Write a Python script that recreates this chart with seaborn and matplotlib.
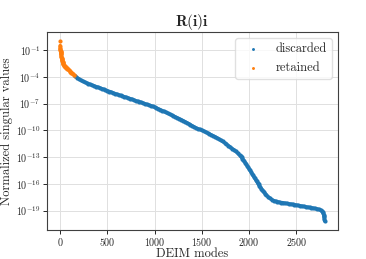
import numpy as np
import pandas as pd
import matplotlib
matplotlib.use("Agg")
import matplotlib.pyplot as plt
import seaborn as sns

# ---- data (log10 of normalized singular values) ----
retained_modes = [0, 1, 2, 3, 4, 5, 6, 7, 8, 9, 10, 12, 14, 16, 18, 20, 22, 24, 26, 28,
                  30, 33, 36, 40, 45, 50, 55, 60, 65, 70, 75, 80, 90, 100, 110, 120,
                  130, 140, 150, 158]
retained_log = [0.0, -0.50, -0.72, -0.88, -1.00, -1.10, -1.19, -1.27, -1.35, -1.42,
                -1.49, -1.62, -1.74, -1.85, -1.95, -2.05, -2.14, -2.23, -2.31, -2.38,
                -2.44, -2.52, -2.59, -2.67, -2.76, -2.83, -2.89, -2.95, -3.00, -3.05,
                -3.09, -3.13, -3.22, -3.31, -3.41, -3.52, -3.62, -3.72, -3.82, -3.90]

discarded_modes = [160, 180, 200, 220, 240, 260, 280, 300, 320, 340, 360, 380, 400, 420,
                   440, 460, 480, 500, 520, 540, 560, 580, 600, 620, 640, 660, 680, 700,
                   720, 740, 760, 780, 800, 820, 840, 860, 880, 900, 920, 940, 960, 980,
                   1000, 1020, 1040, 1060, 1080, 1100, 1120, 1140, 1160, 1180, 1200, 1220,
                   1240, 1260, 1280, 1300, 1320, 1340, 1360, 1380, 1400, 1420, 1440, 1460,
                   1480, 1500, 1520, 1540, 1560, 1580, 1600, 1620, 1640, 1660, 1680, 1700,
                   1720, 1740, 1760, 1780, 1800, 1820, 1840, 1860, 1880, 1900, 1910, 1920,
                   1930, 1940, 1950, 1960, 1970, 1980, 1990, 2000, 2010, 2020, 2030, 2040,
                   2050, 2060, 2070, 2080, 2090, 2100, 2110, 2120, 2130, 2140, 2150, 2160,
                   2170, 2180, 2200, 2220, 2240, 2260, 2280, 2300, 2320, 2340, 2360, 2380,
                   2400, 2420, 2440, 2460, 2480, 2500, 2520, 2540, 2560, 2580, 2600, 2620,
                   2640, 2660, 2680, 2700, 2720, 2740, 2760, 2770, 2780, 2785, 2790, 2793,
                   2795, 2797, 2799]
discarded_log = [-3.92, -4.08, -4.24, -4.38, -4.50, -4.60, -4.69, -4.78, -4.86, -4.94,
                 -5.02, -5.09, -5.16, -5.24, -5.32, -5.40, -5.48, -5.56, -5.65, -5.73,
                 -5.80, -5.88, -5.95, -6.02, -6.09, -6.16, -6.23, -6.30, -6.37, -6.44,
                 -6.51, -6.60, -6.68, -6.74, -6.80, -6.87, -6.95, -7.03, -7.10, -7.16,
                 -7.23, -7.31, -7.40, -7.49, -7.59, -7.68, -7.78, -7.88, -7.98, -8.08,
                 -8.18, -8.28, -8.39, -8.49, -8.59, -8.69, -8.79, -8.90, -9.01, -9.13,
                 -9.25, -9.37, -9.49, -9.62, -9.74, -9.82, -9.89, -9.98, -10.08, -10.18,
                 -10.29, -10.40, -10.50, -10.61, -10.71, -10.83, -10.96, -11.10, -11.24,
                 -11.38, -11.53, -11.70, -11.86, -12.03, -12.18, -12.36, -12.56, -12.78,
                 -12.90, -13.02, -13.16, -13.30, -13.46, -13.62, -13.79, -13.96, -14.13,
                 -14.30, -14.48, -14.65, -14.83, -15.00, -15.18, -15.36, -15.54, -15.72,
                 -15.89, -16.06, -16.22, -16.38, -16.53, -16.68, -16.82, -16.95, -17.08,
                 -17.20, -17.42, -17.60, -17.75, -17.86, -17.94, -18.00, -18.04, -18.08,
                 -18.11, -18.15, -18.19, -18.22, -18.26, -18.29, -18.33, -18.37, -18.40,
                 -18.44, -18.48, -18.52, -18.56, -18.60, -18.63, -18.67, -18.71, -18.75,
                 -18.80, -18.86, -18.95, -19.05, -19.18, -19.30, -19.45, -19.60, -19.75,
                 -19.90, -20.15]

ytick_exps = [-1, -4, -7, -10, -13, -16, -19]
xticks = [0, 500, 1000, 1500, 2000, 2500]

# ---- style ----
sns.set_theme(style="whitegrid")
plt.rcParams.update({
    "font.family": "serif",
    "font.serif": ["cmr10", "DejaVu Serif"],
    "mathtext.fontset": "cm",
    "axes.formatter.use_mathtext": True,
    "axes.unicode_minus": False,
    "axes.edgecolor": "0.25",
    "axes.linewidth": 0.8,
    "grid.color": "0.88",
    "grid.linewidth": 0.7,
    "xtick.bottom": True,
    "ytick.left": True,
    "xtick.color": "0.15",
    "ytick.color": "0.15",
    "xtick.major.size": 3,
    "ytick.major.size": 3,
    "xtick.major.width": 0.7,
    "ytick.major.width": 0.7,
})

df_d = pd.DataFrame({"mode": discarded_modes,
                     "val": np.power(10.0, np.array(discarded_log))})
df_r = pd.DataFrame({"mode": retained_modes,
                     "val": np.power(10.0, np.array(retained_log))})

blue, orange = "#1f77b4", "#ff7f0e"

fig = plt.figure(figsize=(3.66, 2.59), dpi=100)
ax = fig.add_axes([0.128, 0.112, 0.795, 0.764])
ax.set_yscale("log")

# dense point chains (the dots of 2800 modes merge into a thick band)
sns.lineplot(data=df_d, x="mode", y="val", ax=ax, color=blue, linewidth=2.5,
             legend=False, label="_nolegend_", solid_capstyle="round")
sns.lineplot(data=df_r.iloc[1:], x="mode", y="val", ax=ax, color=orange, linewidth=2.5,
             legend=False, label="_nolegend_", solid_capstyle="round")
sns.scatterplot(data=df_d, x="mode", y="val", ax=ax, color=blue, s=9,
                linewidth=0, label="discarded")
sns.scatterplot(data=df_r, x="mode", y="val", ax=ax, color=orange, s=9,
                linewidth=0, label="retained")

ax.set_yticks([10.0 ** e for e in ytick_exps])
ax.yaxis.set_minor_locator(matplotlib.ticker.NullLocator())
ax.set_xticks(xticks)
ax.tick_params(axis="both", labelsize=7.2, pad=1.5)

ax.set_xlabel("DEIM modes", fontsize=9, labelpad=0)
ax.set_ylabel("Normalized singular values", fontsize=9, labelpad=2)
ax.set_title(r"$\mathbf{R}(\mathbf{i})\mathbf{i}$", fontsize=11, pad=4)

for sp in ax.spines.values():
    sp.set_visible(True)
    sp.set_color("0.25")
    sp.set_linewidth(0.8)

leg = ax.legend(loc="upper right", fontsize=9, markerscale=0.7, frameon=True)
leg.get_frame().set_edgecolor("0.85")

fig.savefig("out.png", dpi=100)
